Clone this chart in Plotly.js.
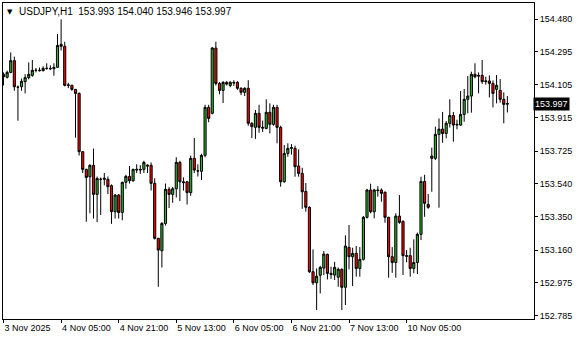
<!DOCTYPE html>
<html><head><meta charset="utf-8">
<script src="https://cdn.plot.ly/plotly-3.0.1.min.js"></script>
<style>html,body{margin:0;padding:0;background:#fff}#chart{width:580px;height:340px}</style>
</head><body><div id="chart"></div>
<script>
const openP = [154.164,154.147,154.175,154.242,154.090,154.093,154.122,154.145,154.158,154.187,
154.187,154.185,154.198,154.198,154.196,154.204,154.335,154.324,154.101,154.101,
154.078,154.055,153.722,153.621,153.579,153.644,153.478,153.564,153.564,153.564,
153.528,153.379,153.474,153.375,153.547,153.581,153.556,153.617,153.621,153.621,
153.645,153.644,153.541,153.227,153.156,153.312,153.507,153.478,153.510,153.661,
153.550,153.550,153.488,153.684,153.612,153.610,153.701,153.975,153.941,154.314,
154.112,154.072,154.118,154.100,154.118,154.118,154.084,154.061,154.084,153.884,
153.861,153.941,153.861,153.855,153.947,153.878,153.975,153.861,153.550,153.712,
153.741,153.741,153.640,153.598,153.495,153.404,153.036,152.973,153.016,153.057,
153.135,153.027,153.017,153.005,153.050,152.947,153.175,153.122,153.141,153.055,
153.107,153.347,153.503,153.379,153.503,153.503,153.490,153.347,153.122,153.089,
153.354,153.324,153.128,153.128,153.055,153.089,153.250,153.552,153.421,153.684,
153.684,153.821,153.851,153.826,153.884,153.929,153.874,153.874,153.935,154.021,
154.040,154.164,154.158,154.158,154.122,154.126,154.112,154.078,154.072,154.021,
153.993];
const highP = [154.175,154.185,154.289,154.265,154.100,154.140,154.165,154.232,154.246,154.200,
154.203,154.210,154.227,154.215,154.227,154.394,154.478,154.350,154.115,154.105,
154.080,154.060,153.725,153.625,153.650,153.740,153.580,153.575,153.600,153.580,
153.535,153.480,153.480,153.550,153.590,153.640,153.625,153.650,153.645,153.670,
153.650,153.660,153.570,153.230,153.320,153.540,153.520,153.520,153.690,153.670,
153.575,153.555,153.700,153.800,153.650,153.710,153.990,153.990,154.320,154.350,
154.120,154.125,154.125,154.125,154.130,154.125,154.090,154.090,154.130,153.890,
153.960,153.990,153.900,154.021,153.998,153.990,153.990,153.870,153.760,153.770,
153.765,153.756,153.735,153.630,153.543,153.410,153.164,153.055,153.070,153.154,
153.140,153.065,153.093,153.060,153.055,153.244,153.303,153.173,153.183,153.177,
153.355,153.510,153.539,153.510,153.525,153.512,153.495,153.350,153.177,153.370,
153.474,153.330,153.160,153.173,153.221,153.260,153.579,153.590,153.480,153.745,
153.865,153.912,153.949,153.897,154.021,153.949,153.905,154.068,154.080,154.154,
154.179,154.227,154.175,154.246,154.150,154.158,154.129,154.160,154.137,154.061,
154.040];
const lowP = [154.100,154.140,154.170,154.070,153.899,154.070,154.055,154.135,154.150,154.175,
154.180,154.180,154.190,154.188,154.156,154.200,154.300,154.095,154.085,154.070,
153.802,153.700,153.600,153.322,153.370,153.340,153.320,153.360,153.530,153.480,
153.310,153.340,153.340,153.330,153.510,153.540,153.550,153.600,153.595,153.600,
153.600,153.500,153.220,152.950,153.060,153.300,153.400,153.430,153.460,153.440,
153.500,153.420,153.470,153.600,153.580,153.560,153.690,153.890,153.935,154.100,
154.050,154.000,154.100,154.090,154.098,154.075,154.045,154.040,153.870,153.800,
153.795,153.830,153.835,153.850,153.826,153.870,153.770,153.522,153.545,153.693,
153.705,153.579,153.579,153.396,153.379,153.030,152.960,152.817,152.912,153.017,
152.992,152.995,152.989,152.950,152.817,152.846,153.050,152.954,153.008,153.008,
153.100,153.340,153.370,153.341,153.465,153.436,153.316,153.002,153.030,153.002,
153.310,153.017,153.090,153.008,153.027,153.023,153.217,153.350,153.396,153.493,
153.674,153.402,153.773,153.798,153.860,153.779,153.850,153.870,153.893,153.941,
153.945,154.141,154.055,154.109,154.105,154.032,153.975,153.998,154.002,153.884,
153.946];
const closeP = [154.150,154.175,154.242,154.093,154.090,154.124,154.145,154.164,154.187,154.187,
154.185,154.198,154.198,154.196,154.204,154.329,154.324,154.101,154.103,154.078,
154.055,153.722,153.621,153.575,153.644,153.478,153.569,153.564,153.570,153.522,
153.379,153.474,153.375,153.547,153.581,153.556,153.621,153.621,153.618,153.661,
153.640,153.541,153.227,153.160,153.312,153.507,153.478,153.510,153.661,153.550,
153.545,153.488,153.684,153.617,153.612,153.701,153.975,153.912,154.314,154.112,
154.072,154.118,154.108,154.118,154.115,154.084,154.061,154.084,153.884,153.865,
153.941,153.861,153.857,153.947,153.878,153.975,153.861,153.550,153.712,153.741,
153.745,153.636,153.598,153.493,153.404,153.036,152.973,153.011,153.061,153.137,
153.027,153.020,153.061,153.050,152.947,153.183,153.122,153.141,153.055,153.107,
153.347,153.503,153.379,153.503,153.500,153.484,153.347,153.122,153.089,153.354,
153.318,153.128,153.125,153.055,153.089,153.250,153.552,153.427,153.404,153.697,
153.821,153.851,153.826,153.884,153.929,153.874,153.878,153.935,154.021,154.040,
154.164,154.150,154.154,154.122,154.126,154.112,154.055,154.101,154.021,153.992,
153.997];
const startTime = '2025-11-03T13:00:00Z';
const tickTimes = ['2025-11-03 13:00','2025-11-04 05:00','2025-11-04 21:00','2025-11-05 13:00','2025-11-06 05:00','2025-11-06 21:00','2025-11-07 13:00','2025-11-10 05:00'];
const tickLabels = ['3 Nov 2025','4 Nov 05:00','4 Nov 21:00','5 Nov 13:00','6 Nov 05:00','6 Nov 21:00','7 Nov 13:00','10 Nov 05:00'];
const priceTicks = [154.480,154.295,154.105,153.915,153.725,153.540,153.350,153.160,152.975,152.785];
const symbol = 'USDJPY,H1';

function pad(v){return (v<10?'0':'')+v;}
function buildTimes(n){
  const out=[]; let t=new Date(startTime).getTime();
  while(out.length<n){
    const d=new Date(t); const wd=d.getUTCDay();
    if(wd!==0&&wd!==6){
      out.push(d.getUTCFullYear()+'-'+pad(d.getUTCMonth()+1)+'-'+pad(d.getUTCDate())+' '+pad(d.getUTCHours())+':00');
    }
    t+=3600000;
  }
  return out;
}
const n = closeP.length;
const times = buildTimes(n);
const last = n-1;
const fnt = {family:'Liberation Sans, Arial, sans-serif', size:9, color:'#000'};

const trace = {
  type:'candlestick', x:times, open:openP, high:highP, low:lowP, close:closeP,
  increasing:{line:{color:'#000',width:1}, fillcolor:'#2db22d'},
  decreasing:{line:{color:'#000',width:1}, fillcolor:'#ff0000'},
  whiskerwidth:0, hoverinfo:'skip', showlegend:false
};
const layout = {
  width:580, height:340, paper_bgcolor:'#fff', plot_bgcolor:'#fff',
  margin:{l:3,r:46,t:3,b:21}, boxgap:0.15, showlegend:false,
  xaxis:{type:'category', categoryarray:times, categoryorder:'array', range:[-0.15, 147.4], rangeslider:{visible:false},
    showgrid:false, zeroline:false, showline:true, mirror:true, linecolor:'#000', linewidth:1,
    ticks:'outside', ticklen:3, tickcolor:'#000', tickvals:tickTimes, ticktext:tickLabels,
    tickangle:0, ticklabelposition:'outside right', tickfont:fnt, fixedrange:true},
  yaxis:{side:'right', range:[152.7661,154.5714], showgrid:false, zeroline:false,
    showline:true, mirror:true, linecolor:'#000', linewidth:1,
    ticks:'outside', ticklen:3, tickcolor:'#000', tickvals:priceTicks,
    ticktext:priceTicks.map(v=>v.toFixed(3)), tickfont:fnt, fixedrange:true},
  annotations:[
    {xref:'paper', yref:'y', x:1, y:closeP[last], xanchor:'left', yanchor:'middle', xshift:-1,
     text:closeP[last].toFixed(3), showarrow:false, bgcolor:'#000', borderpad:1,
     font:{family:fnt.family, size:9, color:'#fff'}},
    {xref:'paper', yref:'paper', x:0, y:1, xanchor:'left', yanchor:'top', xshift:2, yshift:-3,
     text:'▼', showarrow:false, font:{family:'DejaVu Sans', size:7, color:'#000'}},
    {xref:'paper', yref:'paper', x:0, y:1, xanchor:'left', yanchor:'top', xshift:14, yshift:-1,
     text:symbol+'  '+[openP[last],highP[last],lowP[last],closeP[last]].map(v=>v.toFixed(3)).join(' '),
     showarrow:false, font:{family:fnt.family, size:10, color:'#000'}}
  ]
};
Plotly.newPlot('chart',[trace],layout,{staticPlot:true,displayModeBar:false});
</script></body></html>
